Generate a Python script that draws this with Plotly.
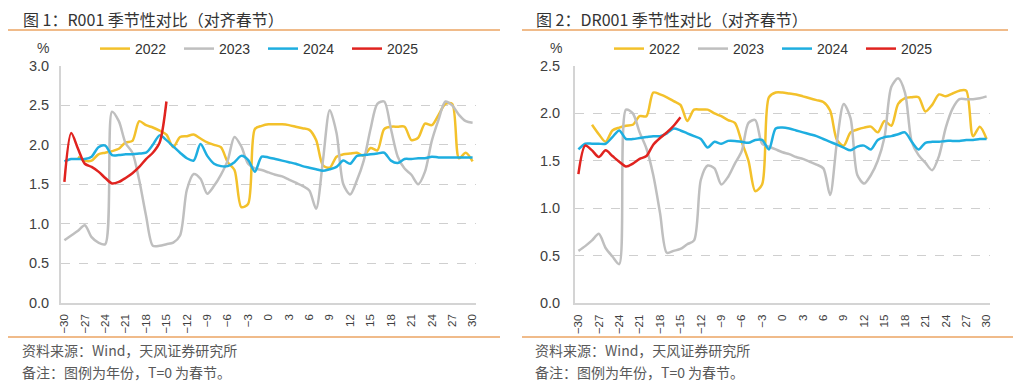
import plotly.graph_objects as go

days = list(range(-30, 31))
N = None

# ---- Chart 1: R001 ----
r001_2022 = [N, N, 1.85, 1.80, 1.80, 1.88, 1.90, 1.92, 1.95, 2.03, 2.05, 2.30, 2.25, 2.22, 2.18, 2.13,
             1.97, 2.10, 2.11, 2.13, 2.08, 2.03, 2.00, 1.97, 1.78, 1.68, 1.21, 1.25, 2.20, 2.24,
             2.26, 2.26, 2.26, 2.25, 2.23, 2.21, 2.19, 2.06, 1.74, 1.71, 1.85, 1.88, 1.89, 1.90,
             1.86, 1.96, 1.93, 2.20, 2.23, 2.23, 2.23, 2.06, 2.09, 2.27, 2.25, 2.38, 2.52, 2.52,
             1.83, 1.90, 1.79]
r001_2023 = [0.79, 0.85, 0.91, 0.98, 0.83, 0.76, 0.74, 2.42, 2.30, 2.02, 1.90, 1.55, 1.10, 0.72, 0.72,
             0.74, 0.76, 0.85, 1.43, 1.63, 1.57, 1.38, 1.48, 1.62, 1.80, 2.10, 1.98, 1.76, 1.70,
             1.68, 1.65, 1.62, 1.60, 1.56, 1.52, 1.48, 1.42, 1.19, 1.80, 2.44, 2.15, 1.50, 1.37,
             1.55, 1.80, 2.20, 2.52, 2.55, 2.20, 1.85, 1.70, 1.62, 1.50, 1.66, 2.05, 2.32, 2.55,
             2.50, 2.38, 2.30, 2.28]
r001_2024 = [1.79, 1.82, 1.82, 1.82, 1.85, 1.97, 1.99, 1.87, 1.87, 1.88, 1.88, 1.89, 1.90, 2.00, 2.12,
             2.06, 1.98, 1.90, 1.83, 1.80, 2.01, 1.86, 1.76, 1.73, 1.73, 1.78, 1.86, 1.81, 1.66,
             1.85, 1.84, 1.82, 1.80, 1.78, 1.76, 1.73, 1.71, 1.69, 1.67, 1.69, 1.72, 1.80, 1.76,
             1.86, 1.87, 1.88, 1.89, 1.90, 1.80, 1.77, 1.82, 1.82, 1.83, 1.83, 1.85, 1.84, 1.84,
             1.84, 1.84, 1.84, 1.84]
r001_2025 = [1.53, 2.15, 1.95, 1.76, 1.72, 1.66, 1.58, 1.51, 1.53, 1.58, 1.64, 1.72, 1.82, 1.90, 2.03,
             2.55]

# ---- Chart 2: DR001 ----
dr001_2022 = [N, N, 1.88, 1.78, 1.70, 1.82, 1.85, 1.87, 1.88, 1.97, 1.97, 2.22, 2.20, 2.17, 2.13, 2.09,
              1.92, 2.04, 2.04, 2.04, 2.00, 1.97, 1.93, 1.90, 1.70, 1.50, 1.18, 1.25, 2.17, 2.22,
              2.22, 2.21, 2.20, 2.18, 2.16, 2.14, 2.12, 2.03, 1.72, 1.66, 1.80, 1.83, 1.85, 1.86,
              1.80, 1.92, 1.87, 2.10, 2.16, 2.17, 2.17, 2.02, 2.09, 2.20, 2.18, 2.21, 2.24, 2.24,
              1.76, 1.86, 1.73]
dr001_2023 = [0.55, 0.60, 0.66, 0.73, 0.58, 0.49, 0.41, 2.04, 2.00, 1.80, 1.63, 1.35, 0.95, 0.53, 0.55,
              0.57, 0.62, 0.66, 1.30, 1.45, 1.42, 1.25, 1.33, 1.47, 1.60, 1.90, 1.93, 1.68, 1.65,
              1.62, 1.59, 1.57, 1.54, 1.52, 1.49, 1.46, 1.42, 1.14, 1.70, 2.10, 1.95, 1.35, 1.26,
              1.35, 1.50, 1.75, 2.28, 2.37, 2.22, 1.70, 1.56, 1.48, 1.40, 1.55, 1.85, 2.05, 2.15,
              2.15, 2.15, 2.16, 2.18]
dr001_2024 = [1.62, 1.68, 1.68, 1.68, 1.68, 1.75, 1.82, 1.73, 1.73, 1.74, 1.75, 1.76, 1.76, 1.79, 1.84,
              1.82, 1.79, 1.76, 1.73, 1.64, 1.70, 1.68, 1.71, 1.71, 1.70, 1.69, 1.72, 1.72, 1.62,
              1.84, 1.85, 1.84, 1.82, 1.80, 1.78, 1.76, 1.73, 1.70, 1.67, 1.64, 1.61, 1.65, 1.66,
              1.62, 1.72, 1.75, 1.76, 1.78, 1.80, 1.70, 1.62, 1.69, 1.70, 1.70, 1.71, 1.71, 1.71,
              1.72, 1.72, 1.73, 1.73]
dr001_2025 = [1.36, 1.66, 1.61, 1.54, 1.61, 1.55, 1.49, 1.44, 1.47, 1.52, 1.55, 1.67, 1.74, 1.80, 1.87,
              1.96]

years = ["2022", "2023", "2024", "2025"]
colors = {"2022": "#F3C12B", "2023": "#BFBFBF", "2024": "#1EAEE0", "2025": "#E0231F"}
xticks = list(range(-30, 31, 3))

titles = ["图 1：R001 季节性对比（对齐春节）", "图 2：DR001 季节性对比（对齐春节）"]
source_text = "资料来源：Wind，天风证券研究所"
note_text = "备注：图例为年份，T=0 为春节。"

# The page body has an 8px default margin; size the figure so it fits the 1024x385 window.
OFF = 8
W, H = 1024 - OFF, 385 - OFF
CJK = "Noto Sans CJK SC"
LAT = "Liberation Sans, Arial, sans-serif"

fig = go.Figure()

charts = [
    dict(data=[r001_2022, r001_2023, r001_2024, r001_2025], xa="x", ya="y", legend="legend"),
    dict(data=[dr001_2022, dr001_2023, dr001_2024, dr001_2025], xa="x2", ya="y2", legend="legend2"),
]
for c in charts:
    for yr, series in zip(years, c["data"]):
        fig.add_trace(go.Scatter(
            x=days[:len(series)], y=series, name=yr, mode="lines",
            line=dict(color=colors[yr], width=2.5, shape="spline", smoothing=0.8),
            xaxis=c["xa"], yaxis=c["ya"], legend=c["legend"], connectgaps=False,
            hoverinfo="skip"))

def px_x(p):
    return (p - OFF) / W

def px_y(p):
    return 1 - (p - OFF) / H

axis_common = dict(showline=True, linecolor="#D4D4D4", linewidth=2, ticks="", zeroline=False)
xfont = dict(family=LAT, size=11.5, color="#404040")
yfont = dict(family=LAT, size=14.5, color="#404040")

legend_common = dict(orientation="h", yanchor="middle", xanchor="left",
                     font=dict(family=LAT, size=14, color="#333333"), entrywidth=39,
                     entrywidthmode="pixels", bgcolor="rgba(0,0,0,0)", itemwidth=30,
                     tracegroupgap=0)

fig.update_layout(
    width=W, height=H, margin=dict(l=0, r=0, t=0, b=0, autoexpand=False),
    paper_bgcolor="white", plot_bgcolor="white",
    showlegend=True,
    xaxis=dict(domain=[px_x(61), px_x(476)], range=[-30.5, 30.5], tickmode="array",
               tickvals=xticks, tickangle=-90, showgrid=False, anchor="y", ticklabelstandoff=5,
               tickfont=xfont, **axis_common),
    yaxis=dict(domain=[px_y(302.5), px_y(66)], range=[0, 3.0], dtick=0.5, tickformat=".1f",
               showgrid=True, gridcolor="#CFCFCF", griddash="dash", gridwidth=1, anchor="x",
               ticklabelstandoff=7, tickfont=yfont, **axis_common),
    xaxis2=dict(domain=[px_x(575), px_x(990)], range=[-30.5, 30.5], tickmode="array",
                tickvals=xticks, tickangle=-90, showgrid=False, anchor="y2", ticklabelstandoff=5,
                tickfont=xfont, **axis_common),
    yaxis2=dict(domain=[px_y(303), px_y(66)], range=[0, 2.5], dtick=0.5, tickformat=".1f",
                showgrid=True, gridcolor="#CFCFCF", griddash="dash", gridwidth=1, anchor="x2",
                ticklabelstandoff=10, tickfont=yfont, **axis_common),
    legend=dict(x=px_x(95), y=px_y(49), **legend_common),
    legend2=dict(x=px_x(609), y=px_y(49), **legend_common),
)

orange = "#EBA463"
shapes = []
annotations = []
for i, (left, right, tx, pct_x) in enumerate([(8, 500, 22, 43), (522, 1008, 535, 556)]):
    shapes.append(dict(type="line", xref="paper", yref="paper", x0=px_x(left), x1=px_x(right),
                       y0=px_y(30), y1=px_y(30), line=dict(color=orange, width=1.5)))
    shapes.append(dict(type="line", xref="paper", yref="paper", x0=px_x(left),
                       x1=px_x(right if i == 0 else 1013),
                       y0=px_y(337), y1=px_y(337), line=dict(color=orange, width=1.5)))
    annotations.append(dict(text=titles[i], xref="paper", yref="paper", x=px_x(tx), y=px_y(18.5),
                            xanchor="left", yanchor="middle", showarrow=False, borderpad=0,
                            font=dict(family=CJK, size=16, color="#333333")))
    annotations.append(dict(text="%", xref="paper", yref="paper", x=px_x(pct_x), y=px_y(48),
                            xanchor="center", yanchor="middle", showarrow=False,
                            font=dict(family=LAT, size=14, color="#404040")))
    annotations.append(dict(text=source_text, xref="paper", yref="paper", x=px_x(tx - 2), y=px_y(350),
                            xanchor="left", yanchor="middle", showarrow=False,
                            font=dict(family=CJK, size=14, color="#595959")))
    annotations.append(dict(text=note_text, xref="paper", yref="paper", x=px_x(tx - 2), y=px_y(372),
                            xanchor="left", yanchor="middle", showarrow=False,
                            font=dict(family=CJK, size=14, color="#595959")))

fig.update_layout(shapes=shapes, annotations=annotations)
fig.write_html("out.html")
